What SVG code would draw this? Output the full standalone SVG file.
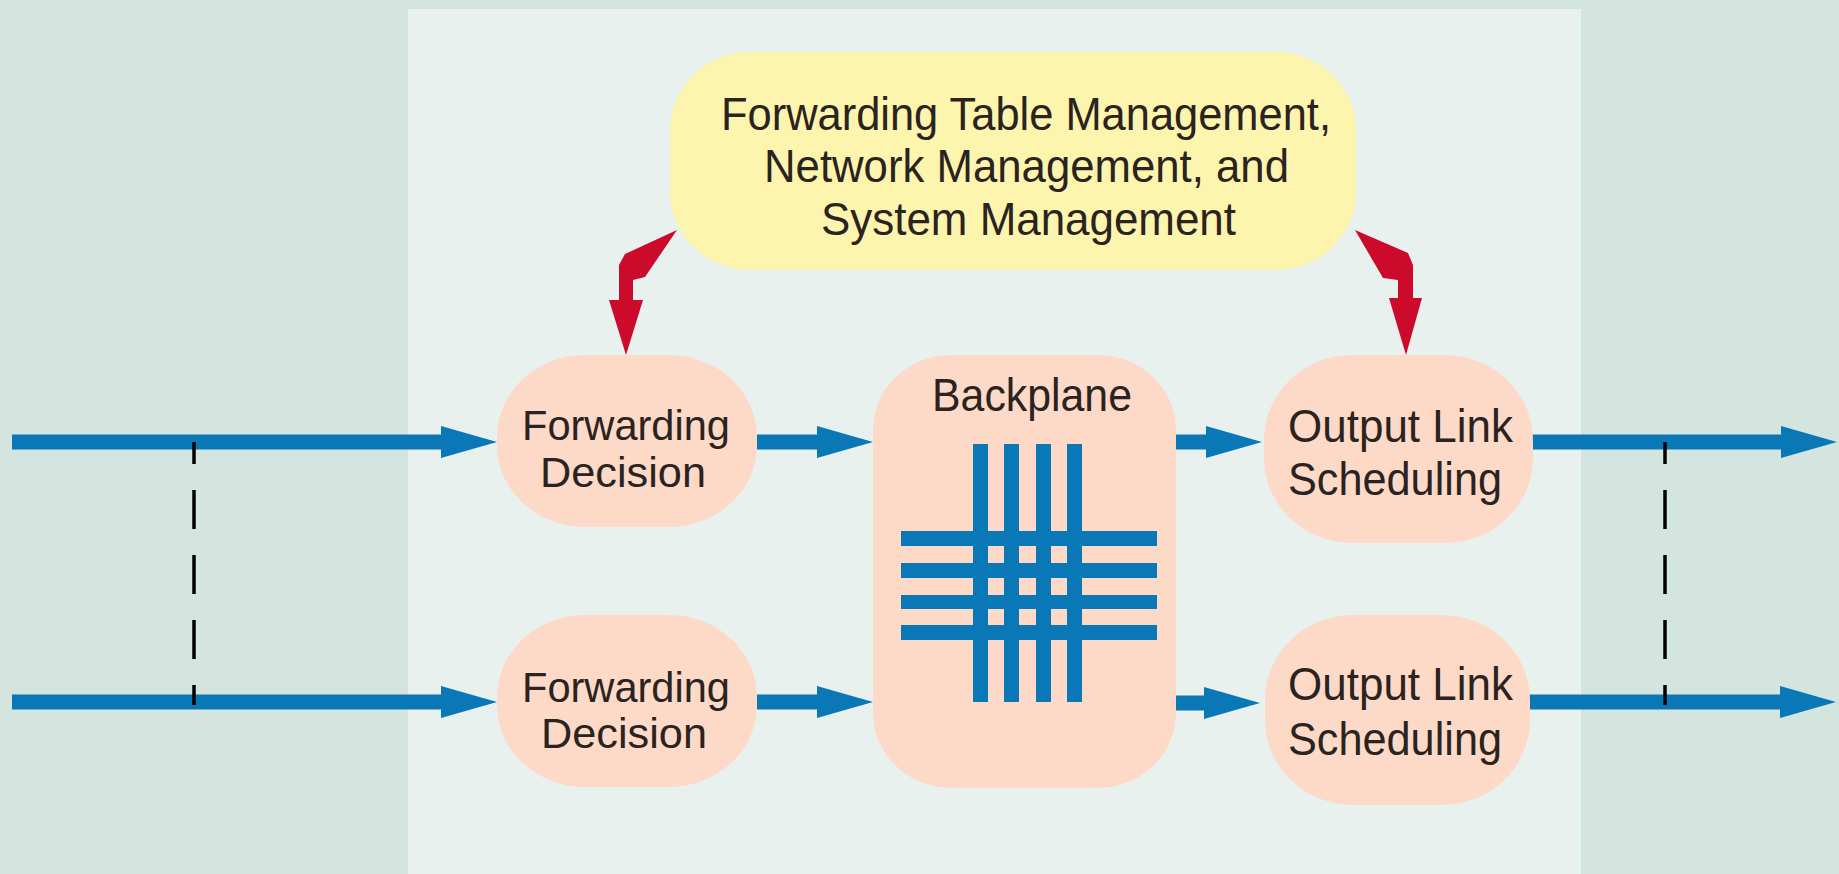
<svg xmlns="http://www.w3.org/2000/svg" width="1839" height="874" viewBox="0 0 1839 874">
  <defs>
    <style>
      .txt { font-family: "Liberation Sans", Arial, sans-serif; font-size: 46px; fill: #2a2320; }
      .small { font-size: 42px; }
      .node { fill: #fdd9c8; }
      .mgmt { fill: #fdf4ae; }
      .flow { stroke: #0a77b7; stroke-width: 15; fill: none; marker-end: url(#head); }
      .bar { fill: #0a77b7; }
      .dash { stroke: #000; stroke-width: 3.5; stroke-dasharray: 39 26; stroke-dashoffset: 17; fill: none; }
      .red { fill: #cc0a2c; }
    </style>
    <marker id="head" markerUnits="userSpaceOnUse" markerWidth="56" markerHeight="32" refX="0" refY="16" orient="auto" overflow="visible">
      <path d="M0,0 L56,16 L0,32 Z" fill="#0a77b7"/>
    </marker>
  </defs>

  <rect x="0" y="0" width="1839" height="874" fill="#d4e5df"/>
  <rect id="panel" x="408" y="9" width="1173" height="865" fill="#e9f1ef"/>

  <g id="connectors">
    <line class="flow" x1="12" y1="442" x2="441" y2="442"/>
    <line class="flow" x1="12" y1="702" x2="441" y2="702"/>
    <line class="flow" x1="757" y1="442" x2="817" y2="442"/>
    <line class="flow" x1="757" y1="702" x2="817" y2="702"/>
    <line class="flow" x1="1175" y1="442" x2="1206" y2="442"/>
    <line class="flow" x1="1175" y1="703" x2="1204" y2="703"/>
    <line class="flow" x1="1532" y1="442" x2="1781" y2="442"/>
    <line class="flow" x1="1529" y1="702" x2="1780" y2="702"/>
    <line class="dash" x1="194" y1="442" x2="194" y2="705"/>
    <line class="dash" x1="1665" y1="442" x2="1665" y2="705"/>
    <polygon class="red" points="677,230 625,254 619,265 619,300 609,300 626,355 643,300 633,300 633,280 645,277"/>
    <polygon class="red" points="1355,230 1408,253 1413,265 1413,298 1422,298 1406,355 1389,298 1398,298 1398,280 1383,278"/>
  </g>

  <g id="mgmt">
    <rect class="mgmt" x="670" y="52" width="686" height="218" rx="80" ry="78"/>
    <text class="txt" x="721" y="130" textLength="610" lengthAdjust="spacingAndGlyphs">Forwarding Table Management,</text>
    <text class="txt" x="764" y="182" textLength="525" lengthAdjust="spacingAndGlyphs">Network Management, and</text>
    <text class="txt" x="821" y="235" textLength="415" lengthAdjust="spacingAndGlyphs">System Management</text>
  </g>

  <g id="fd1">
    <rect class="node" x="497" y="355" width="260" height="172" rx="88" ry="82"/>
    <text class="txt small" x="522" y="440" textLength="208" lengthAdjust="spacingAndGlyphs">Forwarding</text>
    <text class="txt small" x="540" y="487" textLength="166" lengthAdjust="spacingAndGlyphs">Decision</text>
  </g>

  <g id="fd2">
    <rect class="node" x="497" y="615" width="260" height="172" rx="88" ry="82"/>
    <text class="txt small" x="522" y="702" textLength="208" lengthAdjust="spacingAndGlyphs">Forwarding</text>
    <text class="txt small" x="541" y="748" textLength="166" lengthAdjust="spacingAndGlyphs">Decision</text>
  </g>

  <g id="backplane">
    <rect class="node" x="873" y="355" width="303" height="433" rx="78" ry="75"/>
    <text class="txt" x="932" y="411" textLength="200" lengthAdjust="spacingAndGlyphs">Backplane</text>
    <rect class="bar" x="973" y="444" width="15" height="258"/>
    <rect class="bar" x="1004" y="444" width="15" height="258"/>
    <rect class="bar" x="1036" y="444" width="15" height="258"/>
    <rect class="bar" x="1067" y="444" width="15" height="258"/>
    <rect class="bar" x="901" y="531" width="256" height="15"/>
    <rect class="bar" x="901" y="563" width="256" height="15"/>
    <rect class="bar" x="901" y="595" width="256" height="14"/>
    <rect class="bar" x="901" y="625" width="256" height="15"/>
  </g>

  <g id="ols1">
    <rect class="node" x="1264" y="355" width="269" height="188" rx="88" ry="85"/>
    <text class="txt" x="1288" y="442" textLength="225" lengthAdjust="spacingAndGlyphs">Output Link</text>
    <text class="txt" x="1288" y="495" textLength="214" lengthAdjust="spacingAndGlyphs">Scheduling</text>
  </g>

  <g id="ols2">
    <rect class="node" x="1265" y="615" width="265" height="190" rx="88" ry="85"/>
    <text class="txt" x="1288" y="700" textLength="225" lengthAdjust="spacingAndGlyphs">Output Link</text>
    <text class="txt" x="1288" y="755" textLength="214" lengthAdjust="spacingAndGlyphs">Scheduling</text>
  </g>
</svg>
